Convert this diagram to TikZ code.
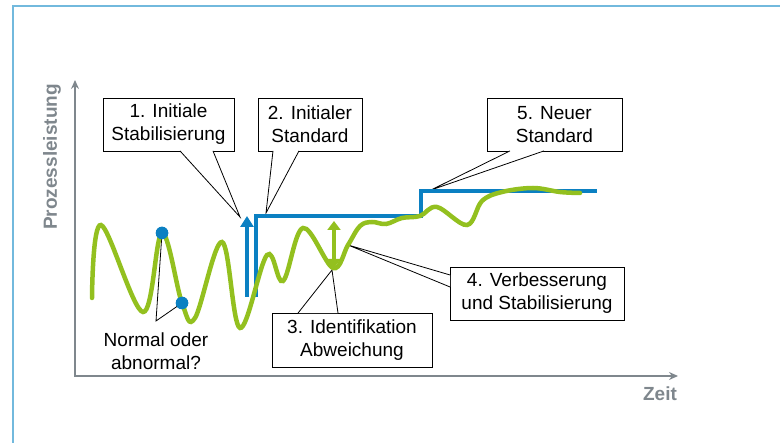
\documentclass[tikz,border=0pt]{standalone}
\usepackage{fontspec}
\setmainfont{Liberation Sans}
\usetikzlibrary{arrows.meta}

\definecolor{kzgreen}{HTML}{93C01F}
\definecolor{kzblue}{HTML}{0B80C2}
\definecolor{axisgray}{HTML}{7F878D}
\definecolor{frameblue}{HTML}{72B9DD}

\tikzset{
  stepbox/.style={draw=black, line width=0.8pt, fill=white, align=center, inner sep=0pt,
    minimum height=53pt, font=\fontsize{19}{23}\selectfont},
  pointer/.style={draw=black, line width=0.8pt},
  axislabel/.style={text=axisgray, font=\fontsize{19}{23}\selectfont\bfseries},
  dot/.style={circle, fill=kzblue, inner sep=0pt, minimum size=12.5pt},
}

\begin{document}
\begin{tikzpicture}[x=1pt, y=-1pt]
\useasboundingbox (0,0) rectangle (780,443);
% frame
\draw[frameblue, line width=2pt] (13,443) -- (13,6.5) -- (780,6.5);

% axes
\coordinate (ytop) at (75,80);
\coordinate (origin) at (75,376);
\coordinate (xend) at (678,376);
\draw[axisgray, line width=2pt, {Stealth[length=9pt,width=8pt,inset=3pt]}-{Stealth[length=9pt,width=8pt,inset=3pt]}] (ytop) -- (origin) -- (xend);
\node[axislabel, rotate=90] (ylab) at (52,157) {Prozessleistung};
\node[axislabel] (xlab) at (660,394) {Zeit};

% callouts
\node[stepbox, minimum width=131pt] (s1) at (168.5,124.5) {1. Initiale\\Stabilisierung};
\node[stepbox, minimum width=104pt] (s2) at (310,124.5) {2. Initialer\\Standard};
\node[stepbox, minimum width=135pt] (s5) at (554.5,124.5) {5. Neuer\\Standard};
\node[stepbox, minimum width=174pt] (s4) at (537,293.5) {4. Verbesserung\\und Stabilisierung};
\node[stepbox, minimum width=160pt, minimum height=54pt] (s3) at (352,340) {3. Identifikation\\Abweichung};

\coordinate (t1) at (240,217);
\coordinate (t2) at (266,213);
\coordinate (t5) at (431,190);
\coordinate (t4) at (348,245);
\coordinate (t3) at (332,270);
\filldraw[pointer, fill=white] ([xshift=11.5pt, yshift=0.5pt]s1.south) -- (t1) -- ([xshift=44.5pt, yshift=0.5pt]s1.south);
\filldraw[pointer, fill=white] ([xshift=-37pt, yshift=0.5pt]s2.south) -- (t2) -- ([xshift=-11pt, yshift=0.5pt]s2.south);
\filldraw[pointer, fill=white] ([xshift=-44.5pt, yshift=0.5pt]s5.south) -- (t5) -- ([xshift=-10.5pt, yshift=0.5pt]s5.south);
\filldraw[pointer, fill=white] ([xshift=0.5pt, yshift=18.5pt]s4.west) -- (t4) -- ([xshift=0.5pt, yshift=6.5pt]s4.west);
\filldraw[pointer, fill=white] ([xshift=-54pt, yshift=-0.5pt]s3.north) -- (t3) -- ([xshift=-14pt, yshift=-0.5pt]s3.north);

% normal or abnormal
\node[font=\fontsize{19}{23}\selectfont, align=center] (nq) at (156,351) {Normal oder\\abnormal?};
\coordinate (nqc) at (156,321);
\node[dot] (d1) at (162,233) {};
\node[dot] (d2) at (182,303) {};
\draw[pointer] (d1.center) -- (nqc) -- (d2.center);

% standards
\draw[kzblue, line width=3.5pt] (256,297) -- (256,216) -- (421,216) -- (421,191) -- (597,191);
\draw[kzblue, line width=3.5pt, -{Triangle[length=11pt,width=13pt]}] (247,297) -- (247,216);

% process performance
\draw[kzgreen, line width=4.5pt, line cap=round] plot[smooth, tension=0.6] coordinates {
  (92,298) (101,225) (143,312) (162,233) (182,303) (195,318) (222,242) (240,328)
  (267,255) (283,281) (303,228) (333,268) (348,245) (360,226) (372,222) (386,224)
  (402,218) (420,216) (437,207) (467,225) (482,201) (502,192) (533,188) (560,192) (580,193)};
\draw[kzgreen, line width=3.5pt, {Triangle[length=9pt,width=13pt]}-{Triangle[length=9pt,width=13pt]}] (334,221) -- (334,268);

\node[dot] at (d1) {};
\node[dot] at (d2) {};
\end{tikzpicture}
\end{document}
